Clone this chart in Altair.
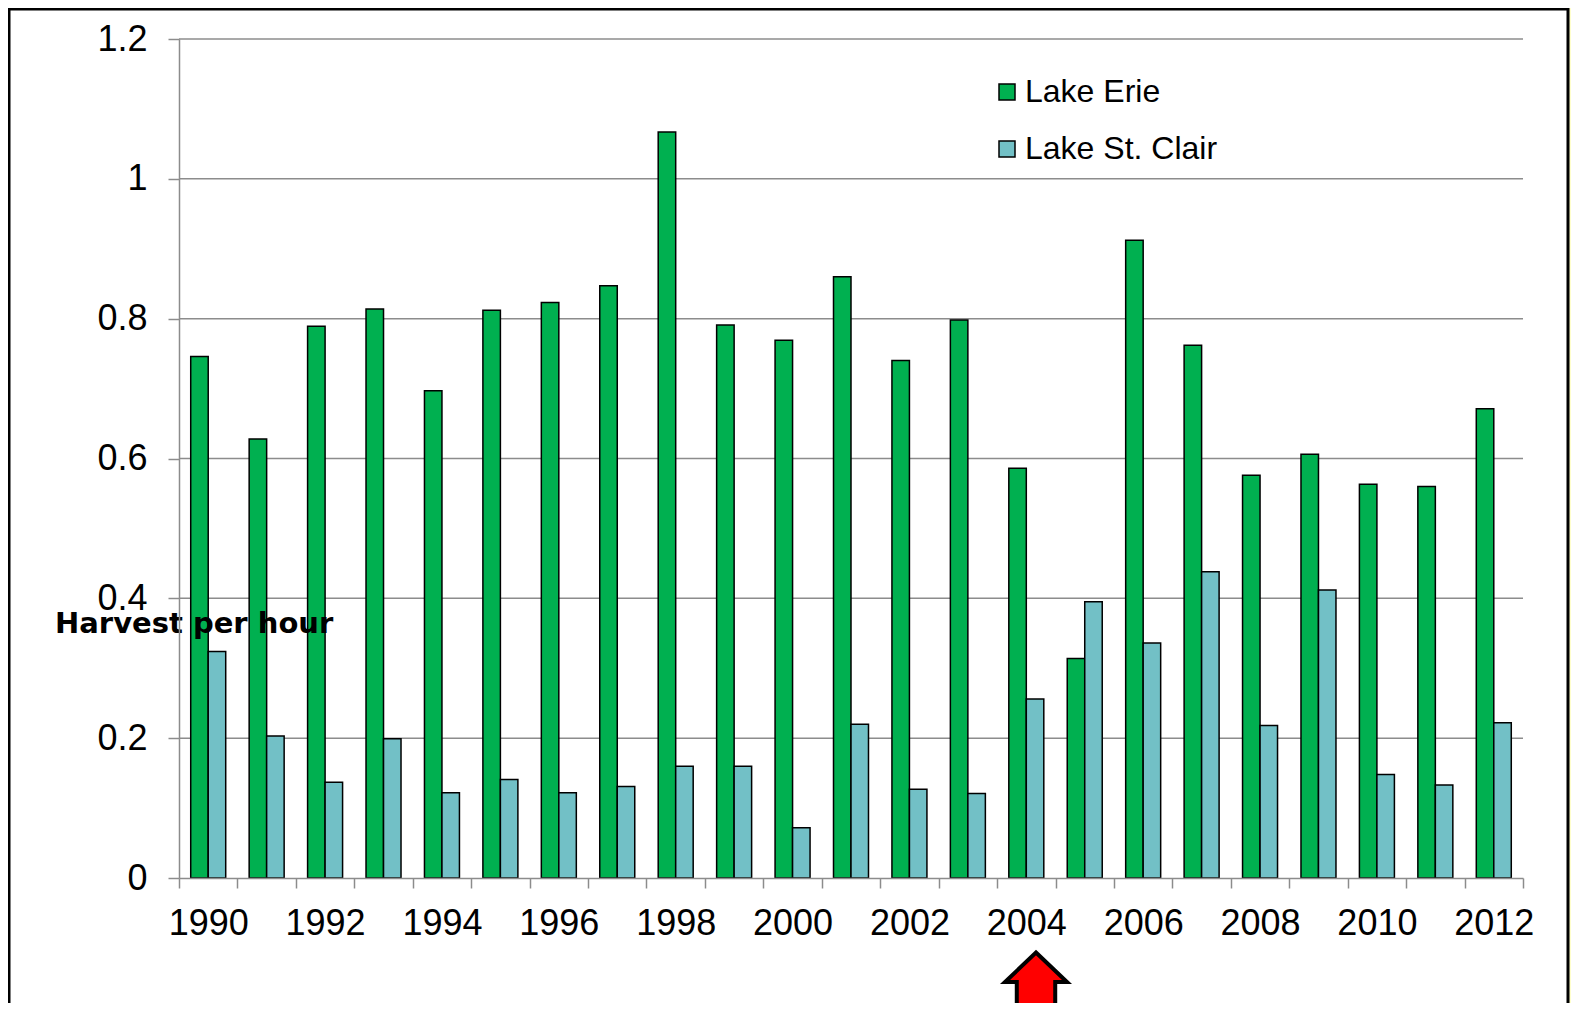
import altair as alt
import pandas as pd

years = list(range(1990, 2013))
erie = [0.746, 0.628, 0.789, 0.814, 0.697, 0.812, 0.823, 0.847, 1.067, 0.791,
        0.769, 0.860, 0.740, 0.798, 0.586, 0.314, 0.912, 0.762, 0.576, 0.606,
        0.563, 0.560, 0.671]
stclair = [0.324, 0.203, 0.137, 0.199, 0.122, 0.141, 0.122, 0.131, 0.160, 0.160,
           0.072, 0.220, 0.127, 0.121, 0.256, 0.395, 0.336, 0.438, 0.218, 0.412,
           0.148, 0.133, 0.222]
series = ["Lake Erie", "Lake St. Clair"]
colors = ["#00B050", "#72C0C6"]
y_ticks = [0, 0.2, 0.4, 0.6, 0.8, 1.0, 1.2]
y_title = "Harvest per hour"

rows = []
for i, yr in enumerate(years):
    rows.append({"year": yr, "lake": series[0], "value": erie[i]})
    rows.append({"year": yr, "lake": series[1], "value": stclair[i]})
df = pd.DataFrame(rows)

W, H = 1344, 839
one = pd.DataFrame({"a": [0]})

y_axis = alt.Axis(values=y_ticks, format="~g", tickSize=11,
                  tickColor="#8C8C8C", domainColor="#8C8C8C",
                  tickWidth=1.5, domainWidth=1.5, grid=False,
                  labelFont="Liberation Sans", labelFontSize=36,
                  labelColor="black", labelPadding=21, zindex=1)
y_scale = alt.Scale(domain=[0, 1.2], nice=False)

panel = alt.Chart(one).mark_rect(fill="white", stroke="black", strokeWidth=3).encode(
    x=alt.value(-170), x2=alt.value(1389), y=alt.value(-30), y2=alt.value(1000)
)

grid = alt.Chart(pd.DataFrame({"value": y_ticks[1:]})).mark_rule(color="#8C8C8C", strokeWidth=1.5).encode(
    y=alt.Y("value:Q", title=None, scale=y_scale, axis=y_axis),
    x=alt.value(0), x2=alt.value(W)
)

bars = alt.Chart(df).mark_bar(stroke="black", strokeWidth=1.5).encode(
    x=alt.X("year:O", title=None,
            scale=alt.Scale(paddingInner=0, paddingOuter=0),
            axis=alt.Axis(labelExpr="datum.value % 2 == 0 ? datum.label : ''",
                          labelAngle=0, tickBand="extent", tickSize=10,
                          tickColor="#8C8C8C", domainColor="#8C8C8C",
                          tickWidth=1.5, domainWidth=1.5,
                          labelFont="Liberation Sans", labelFontSize=36,
                          labelColor="black", labelPadding=18, zindex=1)),
    xOffset=alt.XOffset("lake:N", sort=series,
                        scale=alt.Scale(paddingOuter=0.67, paddingInner=0)),
    y=alt.Y("value:Q", title=None, scale=y_scale, axis=y_axis),
    color=alt.Color("lake:N", sort=series,
                    scale=alt.Scale(domain=series, range=colors),
                    legend=alt.Legend(orient="none", legendX=812, legendY=37,
                                      title=None, symbolType="square", symbolSize=256,
                                      symbolStrokeColor="black", symbolStrokeWidth=1.5,
                                      labelFont="Liberation Sans", labelFontSize=32,
                                      labelColor="black", labelOffset=2, labelLimit=0,
                                      rowPadding=25, padding=0)),
)

label = alt.Chart(one).mark_text(
    text=y_title, font="DejaVu Sans", fontWeight="bold", fontSize=29,
    align="left", baseline="alphabetic", color="black"
).encode(x=alt.value(-124), y=alt.value(594))

arrow = alt.Chart(one).mark_point(
    shape="M0,-0.95 L1,0 L0.62,0 L0.62,1.6 L-0.62,1.6 L-0.62,0 L-1,0 Z",
    size=3844, filled=True, fill="#FF0000", stroke="black", strokeWidth=4, opacity=1
).encode(x=alt.value(857), y=alt.value(943))

chart = alt.layer(panel, grid, bars, label, arrow).properties(
    width=W, height=H,
    background="#FFFFCC",
    padding={"left": 171, "top": 31, "right": 48, "bottom": 125},
    autosize=alt.AutoSizeParams(type="none"),
).configure_view(stroke=None)

chart.save("out.html", embed_options={"renderer": "svg", "actions": False})
